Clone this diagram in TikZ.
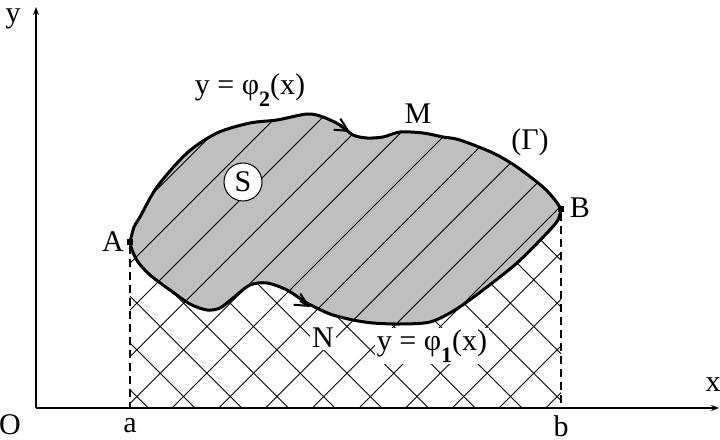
\documentclass[tikz,border=0pt]{standalone}
\usepackage{fontspec}
\setmainfont{Liberation Serif}
\usetikzlibrary{arrows.meta}
\tikzset{
	hatchline/.style={line width=0.45pt},
	border/.style={line width=1.5pt, line join=round},
	guide/.style={line width=0.75pt, dash pattern=on 4pt off 2.5pt},
	axis/.style={line width=0.8pt, -{Stealth[length=4pt,width=3pt]}},
	corner/.style={fill=black, inner sep=0pt, minimum size=3.4pt},
	lbl/.style={font=\fontsize{15}{17}\selectfont, inner sep=1pt},
	flow/.style={line width=1pt, -{Straight Barb[length=6.5pt,width=6.5pt]}}
}
\newcommand{\sub}[1]{\raisebox{-0.4em}{\fontsize{11}{11}\selectfont\bfseries #1}}
\def\upperarc{plot[smooth] coordinates {(130,198) (134,213) (140,223) (157,253) (187,287) (217,307) (250,317) (277,320) (307,326) (323,323) (340,315) (353,305) (367,302) (383,303) (400,308) (423,307) (443,303) (460,300) (493,287) (517,273) (543,253) (555,240) (561,231)}}
\def\lowerarc{-- plot[smooth] coordinates {(561,231) (558,220) (547,207) (517,177) (483,150) (455,130) (430,118) (400,116) (373,117) (353,120) (330,126) (307,137) (287,150) (267,157) (250,155) (233,142) (220,132) (207,130) (190,136) (170,150) (150,165) (138,178) (132,190) (130,198)}}
\begin{document}
\begin{tikzpicture}[x=0.5pt, y=0.5pt]
	\useasboundingbox (0,0) rectangle (720,440);
	\coordinate (O) at (36,32);
	\coordinate (xend) at (719,32);
	\coordinate (yend) at (36,433);
	\coordinate (ta) at (130,32);
	\coordinate (tb) at (561,32);
	\begin{scope}
		\clip (ta) -- (tb) \lowerarc -- cycle;
		\foreach \k in {-5,...,12}{
			\draw[hatchline] (\k*46.7,0) -- ++(400,400);
		}
		\foreach \k in {-2,...,13}{
			\draw[hatchline] (227+\k*46.7,0) -- ++(-400,400);
		}
	\end{scope}
	\fill[black!25] \upperarc \lowerarc -- cycle;
	\begin{scope}
		\clip \upperarc \lowerarc -- cycle;
		\foreach \k in {-5,...,12}{
			\draw[hatchline] (\k*46.7,0) -- ++(400,400);
		}
	\end{scope}
	\draw[border] \upperarc \lowerarc -- cycle;
	\draw[flow] (340,314) -- (350,308);
	\draw[flow] (300,139) -- (310,133);
	\node[corner] (A) at (130,198) {};
	\node[corner] (B) at (561,231) {};
	\draw[guide] (A) -- (ta);
	\draw[guide] (B) -- (tb);
	\draw[axis] (O) -- (xend);
	\draw[axis] (O) -- (yend);
	\node[lbl, anchor=base] (ylbl) at (13,417) {y};
	\node[lbl] (olbl) at (10,15) {O};
	\node[lbl] (albl) at (130,14) {a};
	\node[lbl] (blbl) at (561,14) {b};
	\node[lbl] (xlbl) at (713,55) {x};
	\node[lbl] (Albl) at (113,198) {A};
	\node[lbl] (Blbl) at (580,232) {B};
	\node[lbl] (Mlbl) at (418,326) {M};
	\node[lbl] (glbl) at (530,298) {(Γ)};
	\node[lbl] (phi2) at (250,350) {y = φ\sub{2}(x)};
	\node[lbl, circle, draw, line width=0.5pt, fill=white, minimum size=19pt, inner sep=0pt] (S) at (243,258) {S};
	\node[lbl, fill=white] (Nlbl) at (323,102) {N};
	\node[lbl, fill=white] (phi1) at (432,94) {y = φ\sub{1}(x)};
\end{tikzpicture}
\end{document}
